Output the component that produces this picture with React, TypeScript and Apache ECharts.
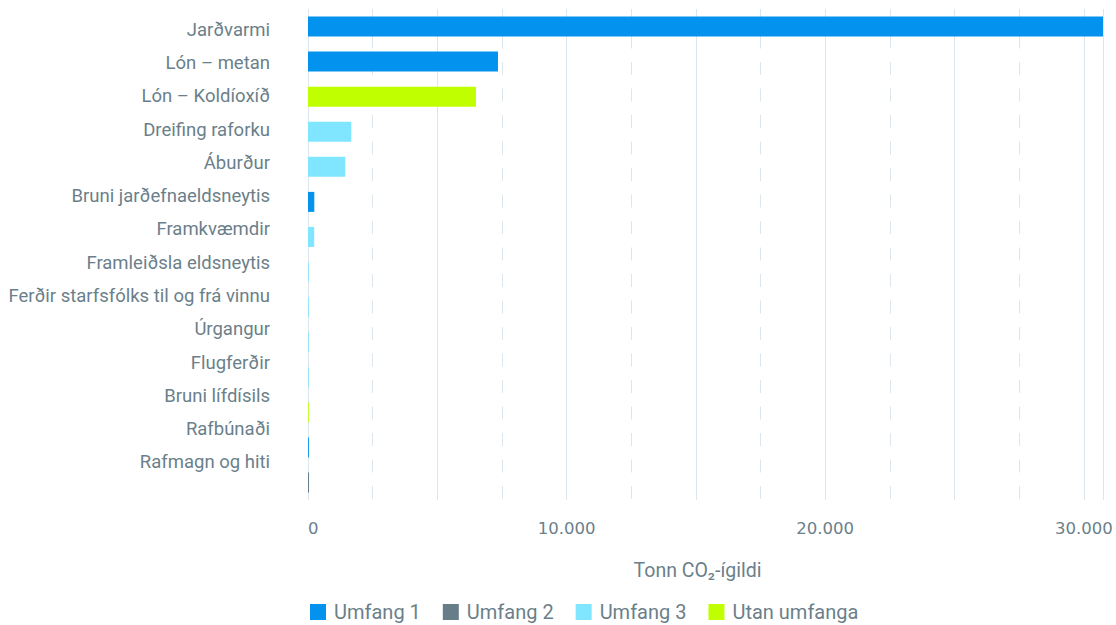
import React, { useEffect, useRef } from "react";
import * as echarts from "echarts";

const categories = [
  "Jarðvarmi",
  "Lón – metan",
  "Lón – Koldíoxíð",
  "Dreifing raforku",
  "Áburður",
  "Bruni jarðefnaeldsneytis",
  "Framkvæmdir",
  "Framleiðsla eldsneytis",
  "Ferðir starfsfólks til og frá vinnu",
  "Úrgangur",
  "Flugferðir",
  "Bruni lífdísils",
  "Rafbúnaði",
  "Rafmagn og hiti",
];

const umfang1 = [30743, 7347, null, null, null, 244, null, null, null, null, null, null, 35, null];
const umfang2 = [null, null, null, null, null, null, null, null, null, null, null, null, null, 40];
const umfang3 = [null, null, null, 1674, 1442, null, 240, 30, 30, 30, 30, null, null, null];
const utanUmfanga = [null, null, 6497, null, null, null, null, null, null, null, null, 30, null, null];

const seriesNames = ["Umfang 1", "Umfang 2", "Umfang 3", "Utan umfanga"];
const seriesColors = ["#0393EE", "#677D88", "#80E5FF", "#BFFF00"];
const axisTitle = "Tonn CO₂-ígildi";

const TEXT = "#6B7F8A";
const GRID = "#DDE6EC";

export default function App() {
  const ref = useRef<HTMLDivElement>(null);
  useEffect(() => {
    const chart = echarts.init(ref.current!, null, { renderer: "svg" });
    const datasets = [umfang1, umfang2, umfang3, utanUmfanga];
    chart.setOption({
      animation: false,
      grid: [
        { left: 308, right: 13, top: 9, bottom: 125 },
        { left: 308, right: 13, top: 13, height: 466 },
      ],
      legend: {
        data: seriesNames,
        left: 310,
        top: 602,
        padding: 0,
        itemWidth: 16,
        itemHeight: 16,
        itemGap: 22,
        icon: "rect",
        textStyle: { fontFamily: "Roboto", fontSize: 20, color: TEXT, padding: [0, 0, 0, 3] },
      },
      xAxis: [
        {
          gridIndex: 0,
          type: "value",
          min: 0,
          max: "dataMax",
          interval: 5000,
          name: axisTitle,
          nameLocation: "middle",
          nameGap: 60,
          nameTextStyle: { fontFamily: "Roboto", fontSize: 19.5, color: TEXT, padding: [0, 16, 0, 0] },
          axisLine: { show: false },
          axisTick: { show: false },
          axisLabel: {
            margin: 20,
            fontFamily: "DejaVu Sans",
            fontSize: 16.5,
            color: TEXT,
            alignMinLabel: "left",
            formatter: (v: number) =>
              v % 10000 === 0 ? String(v).replace(/\B(?=(\d{3})+(?!\d))/g, ".") : "",
          },
          splitLine: { show: true, lineStyle: { color: GRID, width: 1, type: "solid" } },
          minorTick: { show: false, splitNumber: 2 },
          minorSplitLine: { show: true, lineStyle: { color: GRID, width: 1, type: [13, 13.5] } },
        },
        { gridIndex: 1, type: "value", show: false },
      ],
      yAxis: [
        {
          gridIndex: 0,
          type: "category",
          inverse: true,
          data: categories,
          axisLine: { show: false },
          axisTick: { show: false },
          axisLabel: { show: false },
        },
        {
          gridIndex: 1,
          type: "category",
          inverse: true,
          data: categories,
          axisLine: { show: false },
          axisTick: { show: false },
          splitLine: { show: false },
          axisLabel: { margin: 38, fontFamily: "Roboto", fontSize: 18.5, color: TEXT },
        },
      ],
      series: datasets.map((d, i) => ({
        name: seriesNames[i],
        type: "bar",
        stack: "total",
        xAxisIndex: 0,
        yAxisIndex: 0,
        barWidth: 20,
        data: d,
        itemStyle: { color: seriesColors[i] },
      })),
    });
    return () => chart.dispose();
  }, []);
  return (
    <div
      ref={ref}
      style={{ position: "fixed", left: 0, top: 0, width: 1116, height: 625, background: "#fff" }}
    />
  );
}
